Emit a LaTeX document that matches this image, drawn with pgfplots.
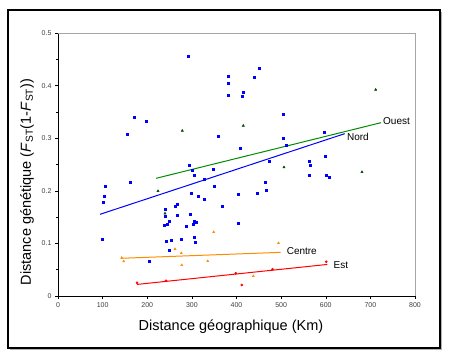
\documentclass[border=0pt]{standalone}
\usepackage{fontspec}
\setmainfont{Liberation Sans}
\usepackage{pgfplots}
\pgfplotsset{compat=1.18}
\begin{document}
\begin{tikzpicture}[x=1pt,y=1pt]
\path[use as bounding box] (0,0) rectangle (449,358);
\fill[gray!60] (10,8) rectangle (442,346);
\fill[white,draw=black,line width=1.2pt] (8,10) rectangle (440,348);
\begin{axis}[
  at={(58pt,62pt)}, anchor=south west,
  scale only axis, width=357pt, height=263pt,
  xmin=0, xmax=800, ymin=0, ymax=0.5,
  axis x line*=bottom, axis y line*=left,
  axis line style={black, line width=0.6pt},
  tick align=outside, tick style={black, line width=0.5pt},
  major tick length=3pt, minor tick length=2pt,
  xtick={0,100,...,800},
  ytick={0,0.1,0.2,0.3,0.4,0.5},
  yticklabels={0,0.1,0.2,0.3,0.4,0.5},
  minor y tick num=1,
  /pgf/number format/assume math mode=true,
  ticklabel style={font=\fontsize{7}{8}\selectfont, text=black!75},
  clip=false,
]
\draw[gray!70, line width=0.8pt] (rel axis cs:0,1) -- (rel axis cs:1,1) -- (rel axis cs:1,0);
% Nord (blue)
\addplot[only marks, mark=square*, mark size=1.0pt, blue, mark options={draw=blue, fill=blue}] coordinates {
(291.3,0.4563) (171,0.3403) (197.2,0.3314) (154,0.3074) (451.1,0.4329) (381.6,0.4183)
(439.9,0.4158) (380.3,0.4055) (381.6,0.3821) (413.9,0.3873) (412.3,0.3797) (504.9,0.3447)
(359.2,0.3042) (504.9,0.3004) (407.8,0.2814) (510.9,0.2871) (596.7,0.3118) (598.3,0.2667)
(294.2,0.2485) (301,0.239) (304.8,0.2295) (106,0.2091) (162.9,0.2162) (104.6,0.1888)
(102.4,0.1774) (299.6,0.1958) (314.4,0.1888) (327.2,0.1844) (327.8,0.223) (239.8,0.1654)
(267.3,0.1749) (262.2,0.1711) (241.3,0.1508) (266,0.154) (296.5,0.1553) (248.7,0.1426)
(244.3,0.1369) (237.5,0.1337) (305.4,0.1413) (310.8,0.1394) (303.2,0.1369) (288.4,0.1318)
(99.3,0.1078) (242,0.1051) (253.2,0.1065) (275.6,0.1078) (306.3,0.1116) (307,0.1032)
(248.1,0.0875) (204.6,0.0671) (472.2,0.2567) (563.1,0.2567) (565.4,0.2485) (564,0.2295)
(346.7,0.2409) (350.3,0.2091) (465.4,0.2162) (466.1,0.2015) (402.7,0.1933) (445.3,0.1952)
(368.2,0.1711) (402.7,0.1382) (404.9,0.1382) (600.6,0.2295) (608,0.2262)
};
\addplot[blue, line width=1pt] coordinates {(94.1,0.1553) (642.5,0.3086)};
% Ouest (green)
\addplot[only marks, mark=triangle*, mark size=1.3pt, black!60!green!70!black] coordinates {
(278.5,0.3143) (224.1,0.1996) (239.8,0.157) (415.2,0.3238) (506.4,0.2447) (681.2,0.2357) (711.9,0.3922)
};
\addplot[green!55!black, line width=1pt] coordinates {(219.6,0.2237) (723.8,0.3295)};
% Centre (orange)
\addplot[only marks, mark=triangle*, mark size=1.2pt, orange!90!yellow] coordinates {
(142.7,0.0728) (147.2,0.066) (262.2,0.0894) (276.3,0.0817) (277.2,0.0589) (335.5,0.0665)
(348.9,0.1217) (437.6,0.038) (494.1,0.1008)
};
\addplot[orange!90!yellow, line width=1pt] coordinates {(142,0.0717) (499,0.083)};
% Est (red)
\addplot[only marks, mark=*, mark size=1.1pt, red] coordinates {
(177,0.0253) (242,0.029) (398.2,0.0432) (411.7,0.0209) (480.7,0.0508) (601,0.0652)
};
\addplot[red, line width=1pt] coordinates {(177,0.022) (603.5,0.060)};
\node[anchor=west, font=\fontsize{10}{12}\selectfont, inner sep=1pt] at (axis cs:726,0.333) {Ouest};
\node[anchor=west, font=\fontsize{10}{12}\selectfont, inner sep=1pt] at (axis cs:645,0.302) {Nord};
\node[anchor=west, font=\fontsize{10}{12}\selectfont, inner sep=1pt] at (axis cs:510,0.085) {Centre};
\node[anchor=west, font=\fontsize{10}{12}\selectfont, inner sep=1pt] at (axis cs:615,0.058) {Est};
\end{axis}
\node[font=\fontsize{14.5}{17}\selectfont] at (231,31) {Distance géographique (Km)};
\node[rotate=90, font=\fontsize{14.5}{17}\selectfont] at (27,176) {Distance génétique (\textit{F}\textsubscript{ST}(1-\textit{F}\textsubscript{ST}))};
\end{tikzpicture}
\end{document}
